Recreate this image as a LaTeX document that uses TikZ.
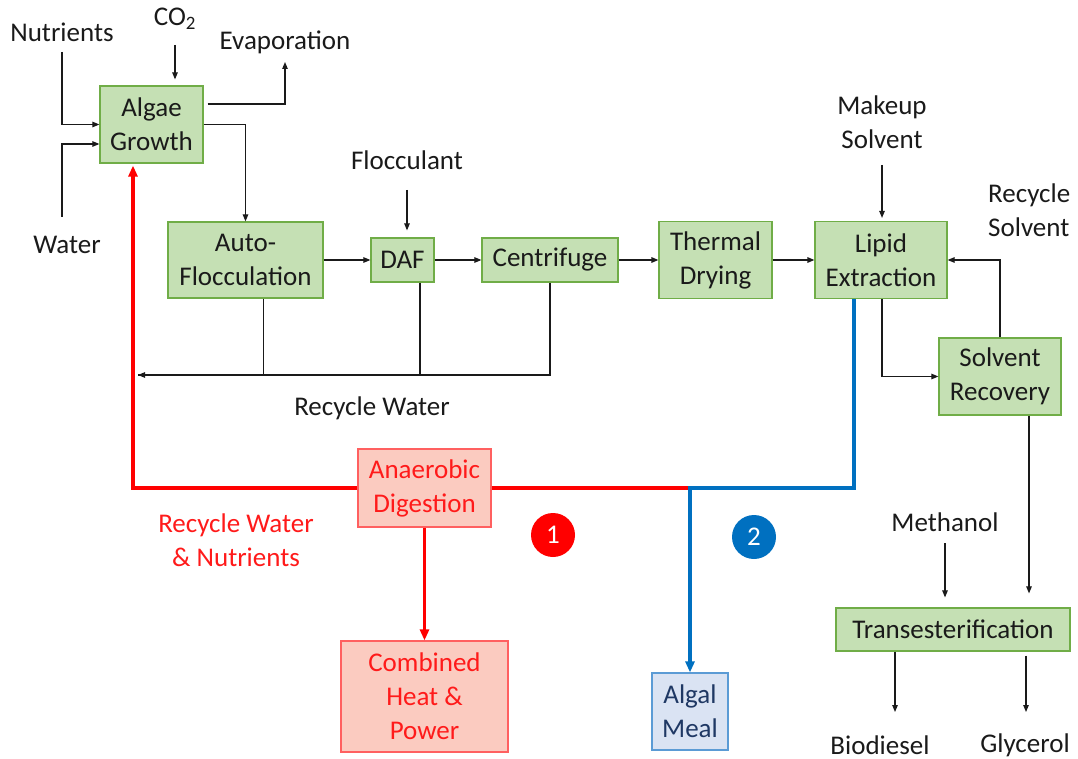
\documentclass[tikz,border=0pt]{standalone}
\usepackage{fontspec}
\setmainfont{Carlito}
\usetikzlibrary{arrows.meta,calc}
\definecolor{gfill}{HTML}{C5E0B4}
\definecolor{gdraw}{HTML}{70AD47}
\definecolor{rfill}{HTML}{FBCBC0}
\definecolor{rdraw}{HTML}{FF6060}
\definecolor{rline}{HTML}{FF0000}
\definecolor{rtext}{HTML}{FF1A1A}
\definecolor{bfill}{HTML}{DAE3F3}
\definecolor{bdraw}{HTML}{5B9BD5}
\definecolor{bline}{HTML}{0070C0}
\definecolor{btext}{HTML}{1F3864}
\definecolor{txt}{HTML}{1A1A1A}
\tikzset{
  gbox/.style={draw=gdraw, fill=gfill, line width=1.2pt, inner sep=0pt, align=center, text=txt},
  rbox/.style={draw=rdraw, fill=rfill, line width=1.2pt, inner sep=0pt, align=center, text=rtext},
  bbox/.style={draw=bdraw, fill=bfill, line width=1.2pt, inner sep=0pt, align=center, text=btext},
  lbl/.style={inner sep=0pt, align=center, text=txt},
  arr/.style={-{Triangle[length=7pt,width=5.5pt]}, line width=1.1pt, draw=txt},
  rarr/.style={-{Triangle[length=11pt,width=9pt]}, line width=3.3pt, draw=rline},
  barr/.style={-{Triangle[length=11pt,width=9pt]}, line width=3.3pt, draw=bline},
  num/.style={circle, inner sep=0pt, minimum size=44pt, text=white}
}
\begin{document}
\begin{tikzpicture}[x=1pt,y=-1pt,font=\fontsize{27}{34}\selectfont]
\useasboundingbox (0,0) rectangle (1078,759);
% process boxes
\node[gbox, minimum width=103pt, minimum height=77pt] (ag) at (151.5,124.5) {Algae\\Growth};
\node[gbox, minimum width=155pt, minimum height=76pt] (af) at (245.5,260) {Auto-\\Flocculation};
\node[gbox, minimum width=63pt, minimum height=44pt] (daf) at (402.5,260) {DAF};
\node[gbox, minimum width=136pt, minimum height=44pt] (cf) at (550,260) {Centrifuge};
\node[gbox, minimum width=113pt, minimum height=77pt] (td) at (715.5,260) {Thermal\\Drying};
\node[gbox, minimum width=132pt, minimum height=77pt] (le) at (881,260) {Lipid\\Extraction};
\node[gbox, minimum width=122pt, minimum height=77pt] (sr) at (1000,376.5) {Solvent\\Recovery};
\node[gbox, minimum width=234pt, minimum height=43pt] (tr) at (953,629.5) {Transesterification};
\node[rbox, minimum width=133pt, minimum height=78pt] (ad) at (424.5,488) {Anaerobic\\Digestion};
\node[rbox, minimum width=167pt, minimum height=111pt] (chp) at (424.5,696.5) {Combined\\Heat \&\\Power};
\node[bbox, minimum width=76pt, minimum height=77pt] (am) at (690,711.5) {Algal\\Meal};
% labels
\node[lbl] (nut) at (62,32) {Nutrients};
\node[lbl] (co2) at (175,19) {CO\textsubscript{2}};
\node[lbl] (evap) at (285,42) {Evaporation};
\node[lbl] (water) at (67,245) {Water};
\node[lbl] (floc) at (407,160) {Flocculant};
\node[lbl] (mk) at (882,122) {Makeup\\Solvent};
\node[lbl, anchor=west, align=left] (rs) at (988,210) {Recycle\\Solvent};
\node[lbl] (rwl) at (372,408) {Recycle Water};
\node[lbl, text=rtext] (rwn) at (236,540) {Recycle Water\\\& Nutrients};
\node[lbl] (meth) at (945,522) {Methanol};
\node[lbl] (bio) at (880,745) {Biodiesel};
\node[lbl] (gly) at (1025,745) {Glycerol};
\node[num, fill=rline] (c1) at (553,535) {1};
\node[num, fill=bline] (c2) at (754,537) {2};
% black connectors
\draw[arr] ([yshift=-20pt]nut.center) |- (ag.west);
\draw[arr] ([xshift=-5pt,yshift=28pt]water.center) |- ([yshift=-19.5pt]ag.west);
\draw[arr, shorten >=6pt] ([yshift=-26pt]co2.center) -- (co2.center |- ag.north);
\draw[arr] ([xshift=4pt,yshift=20.5pt]ag.east) -| ([yshift=-20pt]evap.center);
\draw[arr] (ag.east) -| (af.north);
\draw[arr] (af.east) -- (daf.west);
\draw[arr] (daf.east) -- (cf.west);
\draw[arr, line width=1.5pt] (cf.east) -- (td.west);
\draw[arr, line width=1.5pt] (td.east) -- (le.west);
\draw[arr, shorten >=7pt] ([yshift=-30pt]floc.center) -- (floc.center |- daf.north);
\draw[arr, shorten >=3pt] ([yshift=-43pt]mk.center) -- (mk.center |- le.north);
\coordinate (rwend) at (138,375);
\draw[arr] (cf.south) |- (rwend);
\draw[line width=1.1pt, draw=txt] ([xshift=17.5pt]daf.south) |- (rwend);
\draw[line width=1.1pt, draw=txt] ([xshift=18pt]af.south) |- (rwend);
\draw[arr] ([xshift=1pt]le.south) |- (sr.west);
\draw[arr] (sr.north) |- (le.east);
\coordinate (srx) at ([xshift=29pt]sr.south);
\draw[arr, shorten >=14pt] (srx) -- (srx |- tr.north);
\draw[arr, shorten >=10pt] ([yshift=-21pt]meth.center) -- (meth.center |- tr.north);
\coordinate (tb) at ([xshift=-58pt]tr.south);
\coordinate (bt) at ([yshift=33pt]bio.center);
\draw[arr] (tb) -- (tb |- bt);
\coordinate (tg) at ([xshift=73pt,yshift=-4pt]tr.south);
\coordinate (gt) at ([yshift=33pt]gly.center);
\draw[arr] (tg) -- (tg |- gt);
% coloured connectors
\draw[rarr] (ad.west) -| ([xshift=-18.5pt,yshift=-2pt]ag.south);
\coordinate (j) at (am.north |- ad.east);
\draw[line width=3.3pt, draw=rline] (ad.east) -- (j);
\draw[barr] ([xshift=-27pt]le.south) |- (j) -- (am.north);
\draw[rarr] (ad.south) -- (chp.north);
\end{tikzpicture}
\end{document}
